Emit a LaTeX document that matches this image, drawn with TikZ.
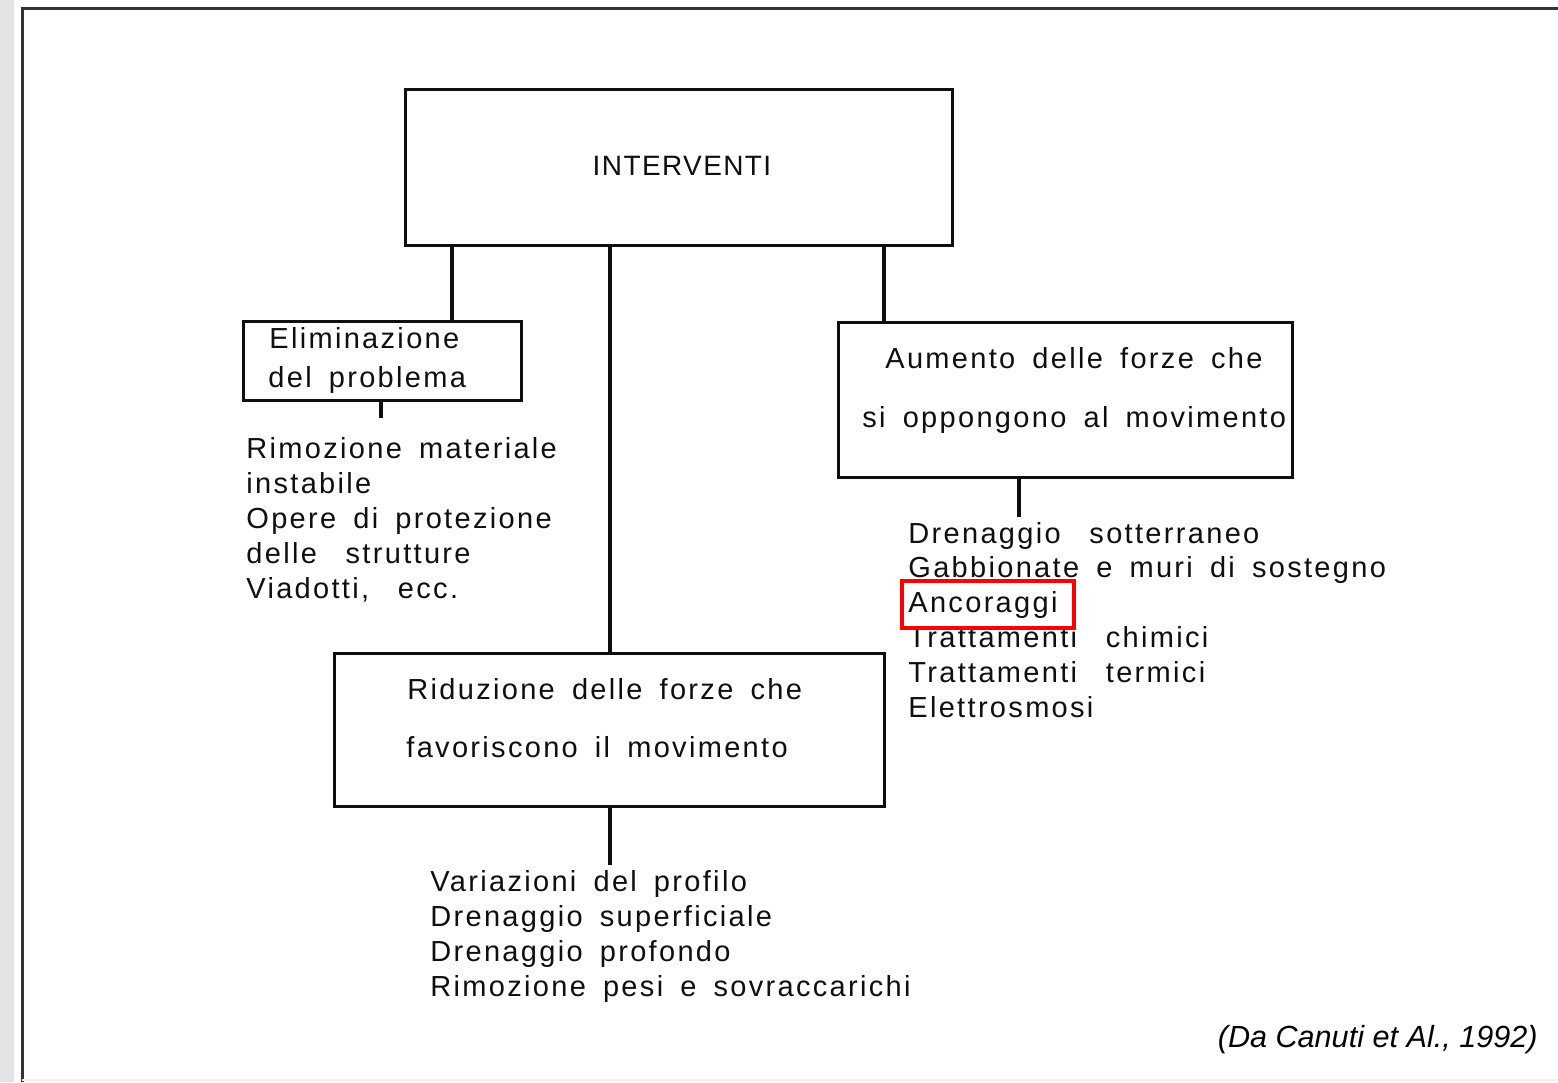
\documentclass[tikz,border=0pt]{standalone}
\usepackage{fontspec}
\setmainfont{Liberation Sans}
\newfontfamily\diagfont[LetterSpace=8,WordSpace=1.65]{Liberation Sans}
\newfontfamily\titlefont[LetterSpace=5]{Liberation Sans}
\definecolor{stripgray}{RGB}{226,227,228}
\definecolor{ink}{RGB}{15,15,15}
\newcommand{\wsp}{\hspace{0.4em}}
\tikzset{
  boxnode/.style={draw=ink, line width=1.5pt, inner sep=0pt, fill=white},
  txt/.style={inner sep=0pt, anchor=base west, align=left, font=\diagfont\fontsize{14.5pt}{17.4pt}\selectfont, text=ink},
  boxtxt/.style={inner sep=0pt, anchor=base west, font=\diagfont\fontsize{14.5pt}{17.4pt}\selectfont, text=ink},
  link/.style={draw=ink, line width=2pt},
  hlbox/.style={draw=red, line width=2pt, inner sep=0pt}
}
\begin{document}
\begin{tikzpicture}[x=0.5pt,y=-0.5pt]
\useasboundingbox (0,0) rectangle (1558,1082);
\fill[white] (0,0) rectangle (1558,1082);
\fill[stripgray] (0,0) rectangle (14,1082);
\draw[ink!85, line width=1.5pt] (22,1082) -- (22,8) -- (1558,8);
\draw[gray!12, line width=1pt] (22,1080) -- (1558,1080);

% boxes
\node[boxnode, minimum width=273.5pt, minimum height=78pt] (int) at (678.5,167) {};
\node[boxnode, minimum width=139pt, minimum height=39.5pt] (elim) at (382,360.5) {};
\node[boxnode, minimum width=227pt, minimum height=77.5pt] (aum) at (1065,399.5) {};
\node[boxnode, minimum width=275pt, minimum height=76.5pt] (rid) at (609,729.5) {};

% box texts
\node[inner sep=0pt, font=\titlefont\fontsize{14pt}{16pt}\selectfont, text=ink] (intT) at (682,166) {INTERVENTI};
\node[boxtxt] (elimA) at (269,348) {Eliminazione};
\node[boxtxt] (elimB) at (268,387) {del problema};
\node[boxtxt] (aumA) at (885,368) {Aumento delle forze che};
\node[boxtxt] (aumB) at (862,427) {si oppongono al movimento};
\node[boxtxt] (ridA) at (407,699) {Riduzione delle forze che};
\node[boxtxt] (ridB) at (406,757) {favoriscono il movimento};

% connectors
\draw[link] (452,0 |- int.south) -- (452,0 |- elim.north);
\draw[link] (610,0 |- int.south) -- (610,0 |- rid.north);
\draw[link] (884,0 |- int.south) -- (884,0 |- aum.north);
\coordinate (elimEnd) at (381,418);
\coordinate (aumEnd) at (1019,517);
\coordinate (ridEnd) at (610,865);
\draw[link] (elimEnd |- elim.south) -- (elimEnd);
\draw[link] (aumEnd |- aum.south) -- (aumEnd);
\draw[link] (ridEnd |- rid.south) -- (ridEnd);

% lists (anchor = baseline of last line)
\node[txt] (listL) at (246,598) {Rimozione materiale\\instabile\\Opere di protezione\\delle \wsp{}strutture\\Viadotti, \wsp{}ecc.};
\node[txt] (listR) at (908,717) {Drenaggio \wsp{}sotterraneo\\Gabbionate e muri di sostegno\\Ancoraggi\\Trattamenti \wsp{}chimici\\Trattamenti \wsp{}termici\\Elettrosmosi};
\node[txt] (listB) at (430,996) {Variazioni del profilo\\Drenaggio superficiale\\Drenaggio profondo\\Rimozione pesi e sovraccarichi};

% highlight
\node[hlbox, minimum width=86pt, minimum height=23.5pt] (hl) at (988,604.5) {};

% caption
\node[inner sep=0pt, anchor=base east, font=\itshape\fontsize{15.3pt}{18pt}\selectfont, text=black] (cap) at (1538,1047) {(Da Canuti et Al., 1992)};
\end{tikzpicture}
\end{document}
